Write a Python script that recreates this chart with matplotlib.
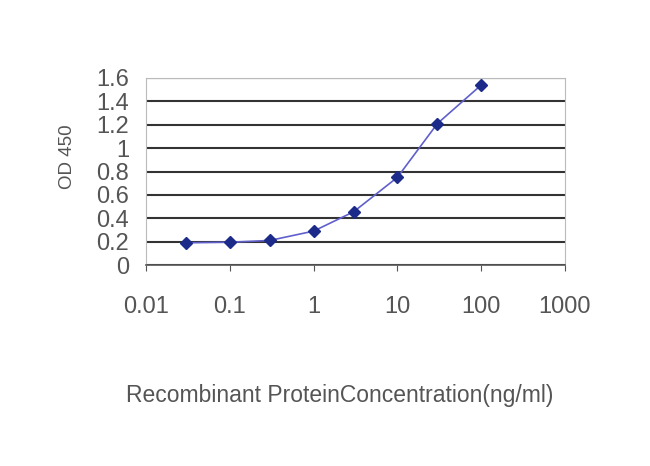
import matplotlib.pyplot as plt

conc = [0.03, 0.1, 0.3, 1, 3, 10, 30, 100]
od = [0.19, 0.195, 0.21, 0.29, 0.455, 0.75, 1.21, 1.54]

xticks = [0.01, 0.1, 1, 10, 100, 1000]
xticklabels = ['0.01', '0.1', '1', '10', '100', '1000']
yticks = [0, 0.2, 0.4, 0.6, 0.8, 1, 1.2, 1.4, 1.6]
yticklabels = ['0', '0.2', '0.4', '0.6', '0.8', '1', '1.2', '1.4', '1.6']

plt.rcParams['font.family'] = ['Liberation Sans', 'DejaVu Sans']

fig = plt.figure(figsize=(6.5, 4.66), dpi=100)
ax = fig.add_axes([146/650, 1-265/466, 419/650, 187/466])

ax.plot(conc, od, '-', color='#6060cc', linewidth=1.2, zorder=3)
ax.plot(conc, od, 'D', color='#1c2a8a', markersize=6, zorder=4)

ax.set_xscale('log')
ax.set_xlim(0.01, 1000)
ax.set_ylim(0, 1.6)
ax.set_xticks(xticks)
ax.set_xticklabels(xticklabels)
ax.minorticks_off()
ax.set_yticks(yticks)
ax.set_yticklabels(yticklabels)

ax.grid(axis='y', color='#333333', linewidth=1.5)
ax.set_axisbelow(True)
for s in ['top', 'right', 'left']:
    ax.spines[s].set_color('#bbbbbb')
ax.spines['bottom'].set_color('#555555')
ax.spines['bottom'].set_linewidth(1.2)

ax.tick_params(axis='x', length=4, color='#555555', labelsize=17, labelcolor='#555555', pad=18)
ax.tick_params(axis='y', length=0, labelsize=17, labelcolor='#555555', pad=12)

ax.set_ylabel('OD 450', fontsize=13.5, color='#555555')
ax.yaxis.set_label_coords(-0.1885, 0.578)
ax.yaxis.label.set_va('center')
ax.set_xlabel('Recombinant ProteinConcentration(ng/ml)', fontsize=16.5, color='#555555')
ax.xaxis.set_label_coords(0.463, -0.70)
ax.xaxis.label.set_va('center')

fig.savefig('out.png', dpi=100)
